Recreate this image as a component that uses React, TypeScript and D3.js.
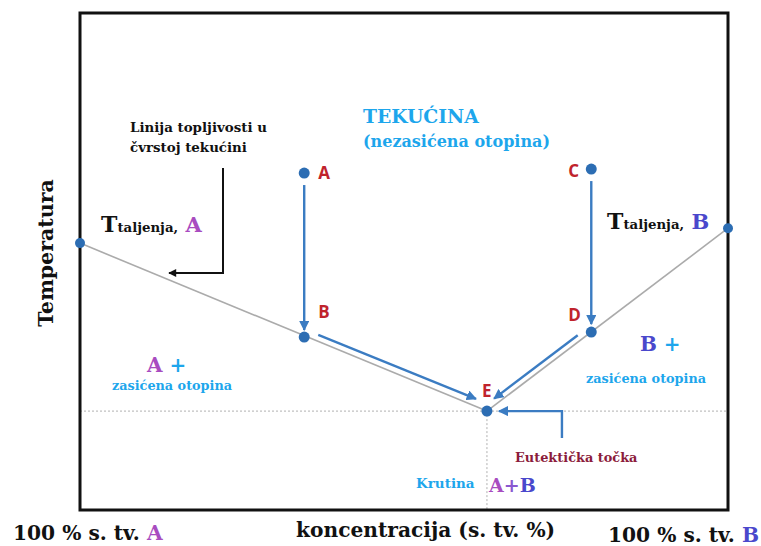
import React from "react";
import * as d3 from "d3";

// Concentration (% B) and temperature (relative units)
const meltA = { conc: 0, temp: 53.7 };
const meltB = { conc: 100, temp: 56.7 };
const eutectic = { conc: 62.8, temp: 19.9 };
const pointNames = ["A", "B", "C", "D", "E"];
const pointConc = [34.6, 34.6, 78.9, 78.9, 62.8];
const pointTemp = [67.8, 34.8, 68.6, 35.8, 19.9];

const W = 761;
const H = 546;
const frame = { left: 80, top: 13, right: 728, bottom: 510 };

const x = d3.scaleLinear().domain([0, 100]).range([frame.left, frame.right]);
const y = d3.scaleLinear().domain([0, 100]).range([frame.bottom, frame.top]);

const serif = "'DejaVu Serif', serif";
const sans = "'Open Sans', 'Liberation Sans', Arial, sans-serif";
const cyan = "#1da6ec";
const purple = "#a84cc0";
const blueB = "#4a48cc";
const red = "#c0232c";
const dotBlue = "#2c6db3";
const arrowBlue = "#3b7cc2";

export default function App() {
  const line = d3.line<[number, number]>().x((d) => x(d[0])).y((d) => y(d[1]));
  const pts = pointNames.map((n, i) => ({ n, px: x(pointConc[i]), py: y(pointTemp[i]) }));
  const P = Object.fromEntries(pts.map((p) => [p.n, p]));
  const ex = x(eutectic.conc);
  const ey = y(eutectic.temp);

  const seg = (a: { px: number; py: number }, b: { px: number; py: number }, s0: number, s1: number, dx = 0, dy = 0) => {
    const L = Math.hypot(b.px - a.px, b.py - a.py);
    const ux = (b.px - a.px) / L;
    const uy = (b.py - a.py) / L;
    return {
      x1: a.px + ux * s0 + dx,
      y1: a.py + uy * s0 + dy,
      x2: b.px - ux * s1 + dx,
      y2: b.py - uy * s1 + dy,
    };
  };
  const sAB = seg(P.A, P.B, 12, 7);
  const sCD = seg(P.C, P.D, 12, 8);
  const sBE = seg(P.B, P.E, 13, 14, 2, -7);
  const sDE = seg(P.D, P.E, 12, 14, -4, -4);

  return (
    <svg width={W} height={H} style={{ position: "absolute", left: 0, top: 0, background: "#fff" }}>
      <defs>
        <marker id="ab" viewBox="0 0 10 10" refX="9" refY="5" markerWidth="4.3" markerHeight="4.3" orient="auto" markerUnits="strokeWidth">
          <path d="M0,0 L10,5 L0,10 z" fill={arrowBlue} />
        </marker>
        <marker id="ak" viewBox="0 0 10 10" refX="9" refY="5" markerWidth="5" markerHeight="4" orient="auto" markerUnits="strokeWidth">
          <path d="M0,0 L10,5 L0,10 z" fill="#111" />
        </marker>
      </defs>

      {/* dotted reference lines */}
      <line x1={frame.left} x2={frame.right} y1={ey} y2={ey} stroke="#b0b0b0" strokeWidth={1} strokeDasharray="2,2" />
      <line x1={ex} x2={ex} y1={ey} y2={frame.bottom} stroke="#b0b0b0" strokeWidth={1} strokeDasharray="2,2" />

      {/* liquidus lines */}
      <path d={line([[meltA.conc, meltA.temp], [eutectic.conc, eutectic.temp]]) || ""} stroke="#ababab" strokeWidth={1.6} fill="none" />
      <path d={line([[eutectic.conc, eutectic.temp], [meltB.conc, meltB.temp]]) || ""} stroke="#ababab" strokeWidth={1.6} fill="none" />

      {/* frame */}
      <rect x={frame.left} y={frame.top} width={frame.right - frame.left} height={frame.bottom - frame.top} fill="none" stroke="#111" strokeWidth={3} />

      {/* blue arrows */}
      {[sAB, sCD, sBE, sDE].map((s, i) => (
        <line key={i} {...s} stroke={arrowBlue} strokeWidth={2.4} markerEnd="url(#ab)" />
      ))}
      <path d={`M${ex + 75},${ey + 27} L${ex + 75},${ey} L${ex + 12},${ey}`} stroke={arrowBlue} strokeWidth={2.4} fill="none" markerEnd="url(#ab)" />

      {/* black arrow */}
      <path d="M223,168 L223,273 L169,273" stroke="#111" strokeWidth={2} fill="none" markerEnd="url(#ak)" />

      {/* dots */}
      <circle cx={x(meltA.conc)} cy={y(meltA.temp)} r={5} fill={dotBlue} />
      <circle cx={x(meltB.conc)} cy={y(meltB.temp)} r={5} fill={dotBlue} />
      {pts.map((p) => (
        <circle key={p.n} cx={p.px} cy={p.py} r={5.5} fill={dotBlue} />
      ))}

      {/* point labels */}
      <g fontFamily={sans} fontWeight={700} fontSize={17} fill={red}>
        <text x={P.A.px + 14} y={P.A.py + 6}>A</text>
        <text x={P.B.px + 14} y={P.B.py - 19}>B</text>
        <text x={P.C.px - 23} y={P.C.py + 8}>C</text>
        <text x={P.D.px - 23} y={P.D.py - 11}>D</text>
        <text x={P.E.px - 5} y={P.E.py - 14}>E</text>
      </g>

      {/* annotations */}
      <g fontFamily={serif} fontWeight={700}>
        <text x={130} y={132} fontSize={13.4} fill="#111">Linija topljivosti u</text>
        <text x={130} y={152} fontSize={13.4} fill="#111">čvrstoj tekućini</text>

        <text x={101} y={232} fill="#111">
          <tspan fontSize={22}>T</tspan>
          <tspan fontSize={13.3}>taljenja,</tspan>
          <tspan fontSize={21} fill={purple}> A</tspan>
        </text>
        <text x={607} y={229} fill="#111">
          <tspan fontSize={22}>T</tspan>
          <tspan fontSize={13.3}>taljenja,</tspan>
          <tspan fontSize={21} fill={blueB}> B</tspan>
        </text>

        <text x={363} y={123} fontSize={18.8} fill={cyan}>TEKUĆINA</text>
        <text x={363} y={147} fontSize={16} fill={cyan}>(nezasićena otopina)</text>

        <text x={147} y={372} fontSize={20}>
          <tspan fill={purple}>A</tspan>
          <tspan fill={cyan}> +</tspan>
        </text>
        <text x={112} y={390} fontSize={12.8} fill={cyan}>zasićena otopina</text>

        <text x={640} y={351} fontSize={20}>
          <tspan fill={blueB}>B</tspan>
          <tspan fill={cyan}> +</tspan>
        </text>
        <text x={586} y={383} fontSize={12.8} fill={cyan}>zasićena otopina</text>

        <text x={515} y={462} fontSize={12.9} fill="#8c1c3c">Eutektička točka</text>

        <text x={416} y={488} fontSize={13.5} fill={cyan}>Krutina</text>
        <text x={489} y={492} fontSize={19}>
          <tspan fill={purple}>A</tspan>
          <tspan fill="#8a58d0">+</tspan>
          <tspan fill={blueB}>B</tspan>
        </text>

        <text x={13} y={540} fontSize={20.2} fill="#111">
          100 % s. tv. <tspan fill={purple}>A</tspan>
        </text>
        <text x={296} y={537} fontSize={20.2} fill="#111">koncentracija (s. tv. %)</text>
        <text x={608} y={542} fontSize={20.2} fill="#111">
          100 % s. tv. <tspan fill={blueB}>B</tspan>
        </text>

        <text transform="translate(53,253) rotate(-90)" textAnchor="middle" fontSize={20.5} fill="#111">Temperatura</text>
      </g>
    </svg>
  );
}
